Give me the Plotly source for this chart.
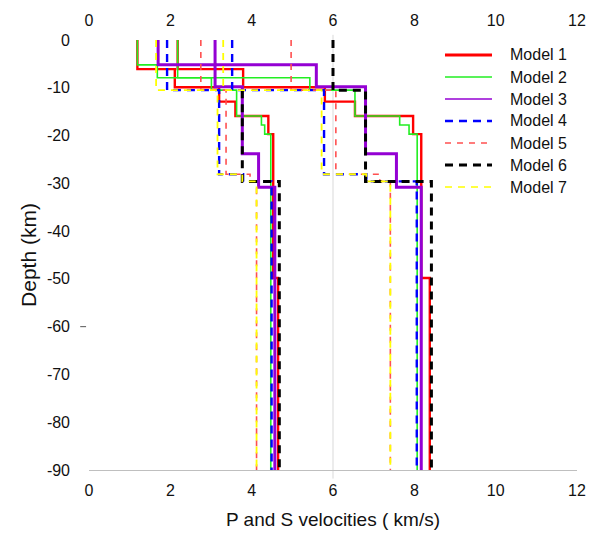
import plotly.graph_objects as go

# Layered velocity models: layer boundaries (km, positive down) and
# S / P velocities (km/s) for each layer.
model_names = ["Model 1", "Model 2", "Model 3", "Model 4", "Model 5", "Model 6", "Model 7"]

m1_depth = [0, 6.1, 9.9, 12.9, 15.9, 19.7, 49.8, 90]
m1_vs = [1.19, 2.11, 3.20, 3.60, 4.41, 4.53, 4.65]
m1_vp = [2.18, 3.79, 5.80, 6.54, 7.97, 8.17, 8.38]

m2_depth = [0, 5.2, 7.9, 10.5, 15.9, 17.8, 19.7, 90]
m2_vs = [1.19, 1.68, 3.01, 3.63, 4.24, 4.32, 4.47]
m2_vp = [2.18, 2.18, 5.43, 6.54, 7.64, 7.87, 8.07]

m3_depth = [0, 5.2, 9.8, 23.8, 30.8, 90]
m3_vs = [1.70, 3.10, 3.77, 4.17, 4.57]
m3_vp = [3.10, 5.59, 6.80, 7.56, 8.17]

m4_depth = [0, 10.5, 28.1, 29.6, 90]
m4_vs = [1.92, 3.20, 3.79, 4.49]
m4_vp = [3.52, 5.78, 6.82, 8.06]

m5_depth = [0, 10.5, 28.1, 29.6, 90]
m5_vs = [2.75, 3.37, 3.96, 4.12]
m5_vp = [4.97, 6.07, 7.15, 7.41]

m6_depth = [0, 10.5, 29.6, 90]
m6_vs = [None, 3.77, 4.68]
m6_vp = [6.00, 6.80, 8.42]

m7_depth = [0, 10.5, 28.1, 29.6, 90]
m7_vs = [1.65, 3.16, 3.77, 4.12]
m7_vp = [3.30, 5.72, 6.82, 7.41]

x_ticks = [0, 2, 4, 6, 8, 10, 12]
y_ticks = [0, -10, -20, -30, -40, -50, -60, -70, -80, -90]
y_ticktext = ["0", "-10", "-20", "-30", "-40", "-50", "-60", "-70", "-80", "-90"]

models = [
    (m1_depth, m1_vs, m1_vp),
    (m2_depth, m2_vs, m2_vp),
    (m3_depth, m3_vs, m3_vp),
    (m4_depth, m4_vs, m4_vp),
    (m5_depth, m5_vs, m5_vp),
    (m6_depth, m6_vs, m6_vp),
    (m7_depth, m7_vs, m7_vp),
]

styles = [
    dict(color="#ff0000", width=2.4, dash="solid", key_width=2.8),
    dict(color="#22ee22", width=1.6, dash="solid", key_width=1.4),
    dict(color="#9400d3", width=3.0, dash="solid", key_width=1.4),
    dict(color="#0000ff", width=2.4, dash="8px,6px", key_width=2.6),
    dict(color="#ff5050", width=1.6, dash="6px,6px", key_width=1.4),
    dict(color="#000000", width=3.0, dash="8px,6px", key_width=2.8),
    dict(color="#ffff00", width=1.8, dash="7px,6px", key_width=1.6),
]


def step_profile(depth, vel):
    xs, ys = [], []
    for i, v in enumerate(vel):
        if v is None:
            continue
        xs += [v, v]
        ys += [-depth[i], -depth[i + 1]]
    return xs, ys


fig = go.Figure()

for name, (depth, vs, vp), st in zip(model_names, models, styles):
    sx, sy = step_profile(depth, vs)
    px, py = step_profile(depth, vp)
    # S profile and P profile as two separate runs of one trace
    fig.add_trace(go.Scatter(
        x=sx + [None] + px, y=sy + [None] + py, mode="lines", name=name,
        line=dict(color=st["color"], width=st["width"], dash=st["dash"]),
        showlegend=False, connectgaps=False,
    ))

# companion axis carrying the upper tick labels
fig.add_trace(go.Scatter(x=x_ticks, y=[0] * len(x_ticks), xaxis="x2", mode="none",
                         showlegend=False, hoverinfo="skip"))

font_family = "Liberation Sans, Arial, sans-serif"
tick_font = dict(family=font_family, size=16, color="#111111")

fig.update_layout(
    width=600, height=538,
    margin=dict(l=89, r=23, t=40, b=68),
    paper_bgcolor="white", plot_bgcolor="white",
    showlegend=False,
    xaxis=dict(
        range=[0, 12], tickvals=x_ticks, ticktext=[str(v) for v in x_ticks],
        showgrid=False, zeroline=False, showline=True, linecolor="#bfbfbf", linewidth=1,
        ticks="", tickfont=tick_font, ticklabelstandoff=6,
        title=dict(text="P and S velocities ( km/s)", font=dict(family=font_family, size=19, color="#111111"),
                   standoff=14),
    ),
    xaxis2=dict(
        range=[0, 12], tickvals=x_ticks, ticktext=[str(v) for v in x_ticks],
        overlaying="x", side="top", showgrid=False, zeroline=False, showline=False,
        ticks="", tickfont=tick_font, ticklabelstandoff=10,
    ),
    yaxis=dict(
        range=[-90, 0], tickvals=y_ticks, ticktext=y_ticktext,
        showgrid=False, zeroline=False, showline=False, ticks="",
        tickfont=tick_font, ticklabelstandoff=18,
        title=dict(text="Depth (km)", font=dict(family=font_family, size=21, color="#111111"),
                   standoff=4),
    ),
)

# vertical reference line at 6 km/s
fig.add_shape(type="line", xref="x", yref="paper", x0=6, x1=6, y0=-0.02, y1=1.012,
              line=dict(color="#d9d9d9", width=1), layer="below")
# small tick beside the -60 label
fig.add_shape(type="line", xref="paper", yref="y", x0=-0.018, x1=-0.006, y0=-60, y1=-60,
              line=dict(color="#555555", width=1))

# legend block drawn with shapes and labels
leg_x0, leg_x1, leg_text_x = 0.7295, 0.8258, 0.8586
for i, (name, st) in enumerate(zip(model_names, styles)):
    ypix = 55 + i * 22
    yp = 1 - (ypix - 40) / 430
    fig.add_shape(type="line", xref="paper", yref="paper", x0=leg_x0, x1=leg_x1, y0=yp, y1=yp,
                  line=dict(color=st["color"], width=st["key_width"], dash=st["dash"]))
    fig.add_annotation(xref="paper", yref="paper", x=leg_text_x, y=yp, text=name,
                       showarrow=False, xanchor="left", yanchor="middle",
                       font=dict(family=font_family, size=16, color="#111111"))

fig.write_html("out.html")
